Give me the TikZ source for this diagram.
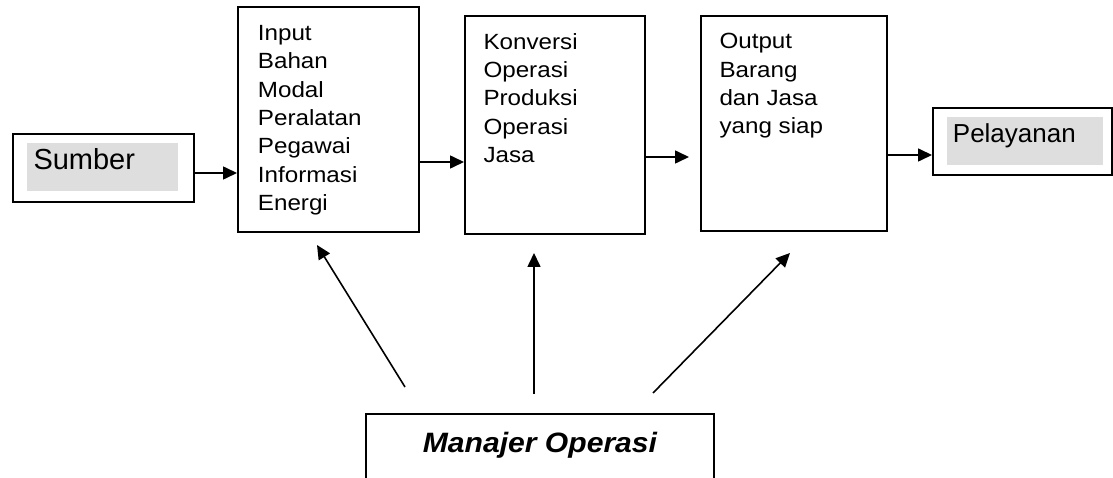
\documentclass[tikz,border=0pt]{standalone}
\usepackage{fontspec}
\setmainfont{Liberation Sans}
\newfontfamily\boxfont[FakeStretch=1.1]{Liberation Sans}
\newfontfamily\manfont[FakeStretch=1.075]{Liberation Sans}
\usetikzlibrary{arrows.meta}
\definecolor{greyfill}{HTML}{DEDEDE}
\begin{document}
\begin{tikzpicture}[x=1pt,y=-1pt,
  boxline/.style={draw=black,line width=1.6pt,fill=white},
  flowbox/.style={boxline,rectangle,inner sep=0pt,anchor=north west},
  greybox/.style={fill=greyfill,draw=none,rectangle,inner sep=0pt,anchor=north west},
  boxtext/.style={inner sep=0pt,anchor=base west,font=\boxfont\fontsize{22}{28.3}\selectfont},
  flowarrow/.style={line width=1.6pt,-{Triangle[length=14pt,width=13pt]}}]
\useasboundingbox (0,0) rectangle (1113,478);
% boxes
\node[flowbox,minimum width=181pt,minimum height=68pt] (sumber) at (12,133) {};
\node[greybox,minimum width=151pt,minimum height=48pt] (sumbergrey) at (27,143) {};
\node[inner sep=0pt,anchor=base west,font=\fontsize{29}{34}\selectfont] (sumbertext) at (33.3,170) {Sumber};

\node[flowbox,minimum width=181pt,minimum height=225pt] (input) at (237,6) {};
\node[boxtext] (inputtext) at (257.7,40.7) {\parbox[t]{150pt}{\raggedright Input\\Bahan\\Modal\\Peralatan\\Pegawai\\Informasi\\Energi}};

\node[flowbox,minimum width=180pt,minimum height=218pt] (konversi) at (464,15) {};
\node[boxtext] (konversitext) at (483.3,49.3) {\parbox[t]{150pt}{\raggedright Konversi\\Operasi\\Produksi\\Operasi\\Jasa}};

\node[flowbox,minimum width=186pt,minimum height=215pt] (output) at (700,15) {};
\node[boxtext] (outputtext) at (719.3,48.8) {\parbox[t]{150pt}{\raggedright Output\\Barang\\dan Jasa\\yang siap}};

\node[flowbox,minimum width=179pt,minimum height=67pt] (pelayanan) at (932,107) {};
\node[greybox,minimum width=156pt,minimum height=48pt] (pelayanangrey) at (947,117) {};
\node[inner sep=0pt,anchor=base west,font=\fontsize{26}{31}\selectfont] (pelayanantext) at (952.7,142.7) {Pelayanan};

\draw[boxline] (366,490) |- (714,414) -- (714,490);
\node[inner sep=0pt,anchor=base,font=\manfont\bfseries\itshape\fontsize{28}{33}\selectfont] (manajer) at (540,452) {Manajer Operasi};

% flow arrows
\draw[flowarrow] (sumber.east |- 0,173) -- (input.west |- 0,173);
\draw[flowarrow] (input.east |- 0,162) -- (konversi.west |- 0,162);
\coordinate (outin) at ([xshift=-11pt]output.west |- 0,157);
\draw[flowarrow] (konversi.east |- 0,157) -- (outin);
\draw[flowarrow] (output.east |- 0,155) -- (pelayanan.west |- 0,155);

% manager arrows
\coordinate (m1) at (405,387);
\coordinate (m2) at (534,394);
\coordinate (m3) at (653,393);
\coordinate (t1) at (317,245);
\coordinate (t2) at (534,253);
\coordinate (t3) at (790,253);
\draw[flowarrow] (m1) -- (t1);
\draw[flowarrow] (m2) -- (t2);
\draw[flowarrow] (m3) -- (t3);
\end{tikzpicture}
\end{document}
